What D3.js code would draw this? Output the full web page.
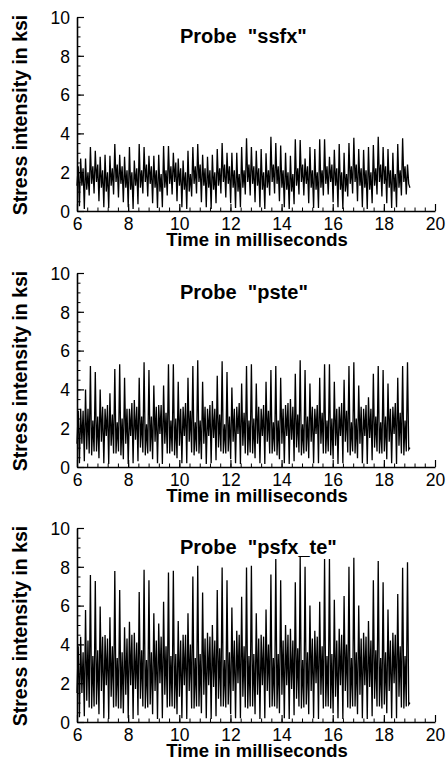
<!DOCTYPE html>
<html lang="en">
<head>
  <meta charset="UTF-8">
  <title>Probe stress intensity</title>
  <script src="https://d3js.org/d3.v7.min.js"></script>
  <style>
    body { margin: 0; background: #fff; }
    text { font-family: "Liberation Sans", Arial, sans-serif; fill: #000; }
  </style>
</head>
<body>
<script>
  // sampled signal: starts at 6 ms, one sample every tStep ms
  const tStart = 6.0;
  const tStep = 13.02 / 273;

  // each cycle = trough, main peak, trough, secondary peak
  const ssfxPre = [1.3, 2.3];
  const ssfxLowA = [0.25,0.1,0.8,0.9,0.5,0.2,0.15,0.85,0.7,0.45,0.2,0.1,0.35,0.9,0.75,0.4,0.15,0.2,0.8,0.85,0.5,0.2,0.1,0.75,0.9,0.45,0.2,0.1,0.4,0.9,0.7,0.4,0.15,0.2,0.85,0.8,0.45,0.2,0.1,0.8,0.9,0.5,0.2,0.1,0.35,0.85,0.8,0.4,0.15,0.15,0.8,0.85,0.45,0.2,0.1,0.75,0.9,0.5,0.2,0.1,0.4,0.85,0.75,0.4,0.15,0.2,0.8,0.85];
  const ssfxPeak = [2.7,2.7,3.3,3.1,2.8,2.9,2.85,3.45,2.9,2.8,3.3,2.6,3.45,3.3,2.85,2.85,2.9,3.35,3.35,3.0,2.7,2.6,3.1,3.3,3.45,2.9,2.8,2.9,3.2,3.5,3.0,3.0,3.0,3.3,3.75,3.3,3.1,3.2,2.97,3.83,3.5,3.37,3.0,2.85,3.7,3.66,2.7,3.3,3.2,3.7,3.7,2.8,3.15,3.45,3.0,3.5,3.78,3.2,3.15,3.3,3.4,3.83,3.3,3.2,3.0,3.45,3.75,2.4];
  const ssfxLowB = [1.3,1.1,1.4,1.5,1.2,1.0,1.3,1.5,1.4,1.2,1.1,1.3,1.2,1.5,1.4,1.2,1.0,1.2,1.4,1.5,1.3,1.1,1.0,1.4,1.5,1.3,1.2,1.1,1.3,1.5,1.4,1.2,1.0,1.2,1.5,1.4,1.3,1.1,1.2,1.5,1.4,1.2,1.1,1.0,1.3,1.5,1.4,1.2,1.1,1.2,1.4,1.5,1.3,1.1,1.0,1.4,1.5,1.3,1.2,1.1,1.3,1.5,1.4,1.2,1.0,1.2,1.5,1.4];
  const ssfxSub = [2.2,2.0,2.3,2.4,2.1,2.0,2.2,2.4,2.3,2.1,2.0,2.2,2.1,2.4,2.3,2.1,1.9,2.1,2.3,2.5,2.2,2.0,1.9,2.3,2.4,2.2,2.1,2.0,2.2,2.4,2.3,2.1,1.9,2.1,2.4,2.3,2.2,2.0,2.1,2.4,2.3,2.1,2.0,1.9,2.2,2.4,2.3,2.1,2.0,2.1,2.3,2.4,2.2,2.0,1.9,2.3,2.4,2.2,2.1,2.0,2.2,2.4,2.3,2.1,1.9,2.1,2.3,1.2];

  const pstePre = [1.2, 2.9];
  const psteLowA = [0.2,0.3,0.7,0.8,0.45,0.2,0.15,0.7,0.8,0.4,0.15,0.2,0.3,0.75,0.7,0.4,0.2,0.15,0.7,0.8,0.45,0.2,0.2,0.75,0.8,0.4,0.15,0.2,0.35,0.8,0.7,0.4,0.2,0.15,0.7,0.75,0.45,0.2,0.15,0.7,0.8,0.4,0.2,0.15,0.3,0.75,0.7,0.45,0.2,0.2,0.7,0.8,0.4,0.15,0.2,0.75,0.8,0.45,0.2,0.15,0.35,0.8,0.7,0.4,0.2,0.15,0.7,0.8];
  const pstePeak = [3.0,4.0,5.2,4.9,4.0,3.0,3.8,5.05,5.3,4.6,3.0,3.45,4.6,5.4,5.0,4.2,3.2,4.2,5.3,5.3,4.4,3.1,4.6,5.2,5.5,4.4,3.0,3.4,4.7,5.45,4.9,4.1,3.1,4.3,5.2,5.3,4.3,3.0,4.4,5.0,5.2,4.6,3.2,3.5,4.8,5.5,5.0,4.3,3.0,4.6,5.3,5.3,4.4,3.1,4.5,5.2,5.4,4.2,3.0,3.6,4.8,5.2,5.0,4.3,3.1,4.6,5.2,5.4];
  const psteLowB = [1.2,0.9,0.6,0.8,1.3,1.6,1.1,0.7,0.6,1.2,1.6,1.4,1.0,0.6,0.8,1.3,1.7,1.2,0.7,0.6,1.1,1.6,1.3,0.6,0.7,1.2,1.6,1.5,1.0,0.7,0.8,1.3,1.7,1.1,0.6,0.7,1.2,1.6,1.3,0.7,0.6,1.2,1.6,1.4,1.0,0.6,0.8,1.3,1.7,1.2,0.7,0.6,1.1,1.6,1.3,0.6,0.7,1.2,1.6,1.5,1.0,0.7,0.8,1.3,1.7,1.1,0.6,0.9];
  const psteSub = [2.9,3.0,2.4,2.6,3.1,3.2,2.7,2.3,2.5,3.0,3.3,3.1,2.6,2.2,2.6,3.1,3.2,2.8,2.4,2.5,3.0,3.3,2.9,2.3,2.4,3.1,3.2,3.0,2.7,2.2,2.6,3.0,3.3,2.8,2.4,2.5,3.1,3.2,2.9,2.3,2.4,3.0,3.3,3.1,2.7,2.2,2.6,3.1,3.2,2.8,2.4,2.5,3.0,3.3,2.9,2.3,2.5,3.1,3.2,3.0,2.6,2.3,2.6,3.0,3.3,2.8,2.4,1.0];

  const psfxPre = [1.5, 3.9];
  const psfxLowA = [0.25,0.3,0.75,0.8,0.4,0.2,0.15,0.75,0.7,0.45,0.2,0.15,0.35,0.8,0.75,0.4,0.15,0.2,0.75,0.8,0.4,0.2,0.15,0.7,0.8,0.45,0.2,0.15,0.3,0.8,0.75,0.4,0.2,0.2,0.75,0.8,0.4,0.15,0.2,0.75,0.8,0.45,0.2,0.15,0.35,0.8,0.75,0.4,0.2,0.15,0.7,0.8,0.45,0.2,0.15,0.75,0.8,0.4,0.2,0.15,0.3,0.8,0.7,0.45,0.2,0.2,0.75,0.8];
  const psfxPeak = [4.4,5.77,7.58,7.27,5.95,4.48,5.4,7.78,6.8,4.88,5.17,4.6,6.7,7.85,7.3,5.6,5.08,6.2,7.7,7.8,5.2,4.5,5.6,7.5,8.06,6.67,4.6,5.0,6.8,7.96,7.3,5.9,4.7,6.45,7.96,8.06,5.6,4.5,5.8,7.6,8.4,7.3,5.0,4.8,7.2,8.5,8.0,6.0,4.7,6.2,8.4,8.4,6.3,4.8,6.5,8.0,8.47,6.0,4.6,5.2,7.3,8.3,7.2,5.8,4.6,6.6,7.95,8.23];
  const psfxLowB = [1.5,1.1,0.7,0.9,1.6,1.9,1.3,0.8,0.7,1.4,1.9,1.7,1.2,0.7,0.9,1.6,2.0,1.4,0.8,0.7,1.3,1.9,1.6,0.7,0.8,1.4,1.9,1.8,1.2,0.8,0.9,1.6,2.0,1.3,0.7,0.8,1.4,1.9,1.6,0.8,0.7,1.4,1.9,1.7,1.2,0.7,0.9,1.6,2.0,1.4,0.8,0.7,1.3,1.9,1.6,0.7,0.8,1.4,1.9,1.8,1.2,0.8,0.9,1.6,2.0,1.3,0.7,0.9];
  const psfxSub = [3.6,4.2,3.4,3.7,4.4,4.3,3.9,3.3,3.6,4.3,4.5,4.1,3.7,3.2,3.6,4.2,4.4,3.9,3.4,3.5,4.2,4.5,4.0,3.3,3.5,4.3,4.4,4.2,3.8,3.2,3.6,4.2,4.5,3.9,3.4,3.5,4.3,4.4,4.0,3.3,3.5,4.2,4.5,4.2,3.8,3.2,3.6,4.3,4.4,3.9,3.4,3.5,4.2,4.5,4.0,3.3,3.6,4.3,4.4,4.2,3.7,3.3,3.6,4.2,4.5,3.9,3.4,1.0];

  const probeNames = ['ssfx', 'pste', 'psfx_te'];
  const xTicks = [6, 8, 10, 12, 14, 16, 18, 20];
  const yTicks = [0, 2, 4, 6, 8, 10];

  function buildSeries(pre, lowA, peak, lowB, sub) {
    const vals = pre.slice();
    for (let k = 0; k < peak.length; k++) {
      vals.push(lowA[k], peak[k], lowB[k], sub[k]);
    }
    return vals.map((v, i) => ({ t: tStart + i * tStep, v: v }));
  }

  const series = [
    buildSeries(ssfxPre, ssfxLowA, ssfxPeak, ssfxLowB, ssfxSub),
    buildSeries(pstePre, psteLowA, pstePeak, psteLowB, psteSub),
    buildSeries(psfxPre, psfxLowA, psfxPeak, psfxLowB, psfxSub)
  ];

  const width = 446, height = 761;
  const left = 77, right = 435, plotH = 194;
  const tops = [17, 273, 528];

  const svg = d3.select('body').append('svg')
    .attr('width', width)
    .attr('height', height);

  const x = d3.scaleLinear().domain([6, 20]).range([left, right]);
  const y = d3.scaleLinear().domain([0, 10]).range([plotH, 0]);

  const line = d3.line().x(d => x(d.t)).y(d => y(d.v));

  series.forEach((data, i) => {
    const g = svg.append('g').attr('transform', `translate(0,${tops[i]})`);

    // the signal
    g.append('path')
      .datum(data)
      .attr('d', line)
      .attr('fill', 'none')
      .attr('stroke', '#000')
      .attr('stroke-width', 1.3);

    // minor ticks
    g.append('g')
      .attr('transform', `translate(0,${plotH})`)
      .call(d3.axisBottom(x).tickValues(d3.range(6, 20.01, 0.4)).tickSize(-3.5).tickFormat(''))
      .call(a => a.select('.domain').remove());
    g.append('g')
      .attr('transform', `translate(${left},0)`)
      .call(d3.axisLeft(y).tickValues(d3.range(0, 10.01, 0.5)).tickSize(-3.5).tickFormat(''))
      .call(a => a.select('.domain').remove());

    // major ticks and labels
    const xa = g.append('g')
      .attr('transform', `translate(0,${plotH})`)
      .call(d3.axisBottom(x).tickValues(xTicks).tickSize(-7).tickSizeOuter(0).tickFormat(d3.format('d')));
    const ya = g.append('g')
      .attr('transform', `translate(${left},0)`)
      .call(d3.axisLeft(y).tickValues(yTicks).tickSize(-7).tickPadding(7).tickSizeOuter(0).tickFormat(d3.format('d')));

    [xa, ya].forEach(a => {
      a.selectAll('text').style('font-size', '17.5px').style('font-family', '"Liberation Sans", Arial, sans-serif');
      a.select('.domain').attr('stroke-width', 1.6);
      a.selectAll('.tick line').attr('stroke-width', 1.2);
    });
    ya.selectAll('text').attr('dy', '0.36em');
    xa.selectAll('text').attr('y', 19).attr('dy', 0);

    // axis titles
    g.append('text')
      .attr('x', 257)
      .attr('y', plotH + 35)
      .attr('text-anchor', 'middle')
      .style('font-size', '18.5px')
      .style('font-weight', 'bold')
      .text('Time in milliseconds');

    g.append('text')
      .attr('transform', `translate(27,${plotH / 2 + 1}) rotate(-90)`)
      .attr('text-anchor', 'middle')
      .style('font-size', '19.5px')
      .style('font-weight', 'bold')
      .text('Stress intensity in ksi');

    g.append('text')
      .attr('x', 180)
      .attr('y', 26)
      .style('font-size', '20px')
      .style('font-weight', 'bold')
      .style('white-space', 'pre')
      .text(`Probe  "${probeNames[i]}"`);
  });
</script>
</body>
</html>
